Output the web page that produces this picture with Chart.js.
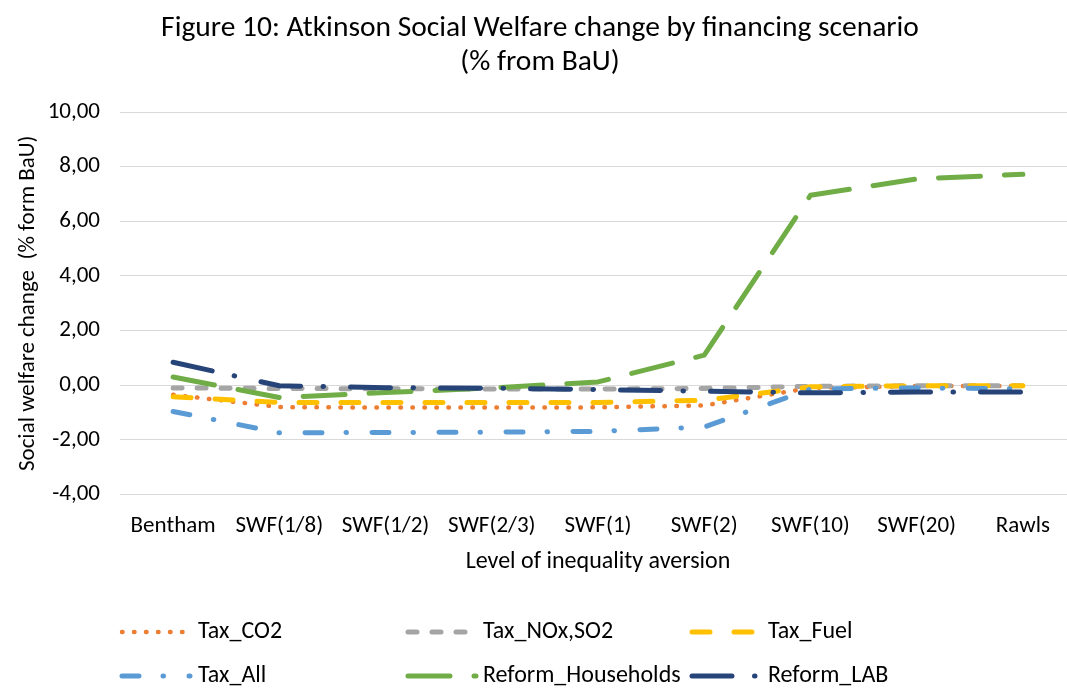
<!DOCTYPE html>
<html><head><meta charset="utf-8">
<script src="https://cdn.jsdelivr.net/npm/chart.js@4/dist/chart.umd.min.js"></script>
<style>html,body{margin:0;padding:0;background:#fff;overflow:hidden;width:1067px;height:690px}canvas{display:block}</style>
</head><body><canvas id="c" width="1080" height="690"></canvas>
<script>
const categories = ['Bentham','SWF(1/8)','SWF(1/2)','SWF(2/3)','SWF(1)','SWF(2)','SWF(10)','SWF(20)','Rawls'];
const taxCO2 = [-0.35, -0.80, -0.82, -0.82, -0.81, -0.74, -0.10, -0.03, -0.03];
const taxNOxSO2 = [-0.10, -0.12, -0.13, -0.14, -0.14, -0.12, -0.04, -0.02, -0.02];
const taxFuel = [-0.42, -0.63, -0.63, -0.63, -0.63, -0.55, -0.06, -0.02, -0.02];
const taxAll = [-0.96, -1.74, -1.73, -1.72, -1.69, -1.53, -0.14, -0.10, -0.13];
const reformHouseholds = [0.30, -0.45, -0.27, -0.10, 0.12, 1.10, 6.95, 7.55, 7.72];
const reformLAB = [0.84, -0.02, -0.09, -0.11, -0.16, -0.22, -0.28, -0.25, -0.25];
const seriesNames = ['Tax_CO2','Tax_NOx,SO2','Tax_Fuel','Tax_All','Reform_Households','Reform_LAB'];
const yMin = -4, yMax = 10, yStep = 2;
const titleLines = ['Figure 10: Atkinson Social Welfare change by financing scenario', '(% from BaU)'];
const xTitle = 'Level of inequality aversion';
const yTitle = 'Social welfare change  (% form BaU)';

const FONT = "Carlito, Lato, 'Open Sans', sans-serif";
const TXT = '#000000';

const styles = [
  {color:'#ED7D31', dash:[0.5, 11.5], width:4.5},
  {color:'#A5A5A5', dash:[9, 15], width:5},
  {color:'#FFC000', dash:[18, 24], width:5},
  {color:'#5B9BD5', dash:[17, 24, 0.5, 25.5], width:5},
  {color:'#70AD47', dash:[42, 24], width:5},
  {color:'#264478', dash:[40, 22.5, 0.5, 27], width:5}
];
const values = [taxCO2, taxNOxSO2, taxFuel, taxAll, reformHouseholds, reformLAB];

const datasets = values.map((v, i) => ({
  label: seriesNames[i],
  data: v,
  borderColor: styles[i].color,
  backgroundColor: styles[i].color,
  borderWidth: styles[i].width,
  borderDash: styles[i].dash,
  borderCapStyle: 'round',
  borderJoinStyle: 'round',
  pointRadius: 0,
  fill: false,
  tension: 0,
  order: values.length - i
}));

const titlePlugin = {
  id: 'customTitle',
  afterDraw(chart) {
    const ctx = chart.ctx;
    ctx.save();
    ctx.fillStyle = TXT;
    ctx.textAlign = 'center';
    ctx.textBaseline = 'middle';
    ctx.font = `29.5px ${FONT}`;
    ctx.fillText(titleLines[0], 540, 29);
    ctx.fillText(titleLines[1], 540, 63);
    ctx.restore();
  }
};

const legendPlugin = {
  id: 'customLegend',
  afterDraw(chart) {
    const ctx = chart.ctx;
    const cols = [[122, 190, 198], [408, 476, 483], [692, 760, 768]];
    const rows = [632, 676];
    ctx.save();
    chart.data.datasets.forEach((ds, i) => {
      const c = cols[i % 3], y = rows[Math.floor(i / 3)];
      ctx.beginPath();
      ctx.strokeStyle = ds.borderColor;
      ctx.lineWidth = ds.borderWidth;
      ctx.lineCap = 'round';
      ctx.setLineDash(ds.borderDash);
      ctx.moveTo(c[0], y);
      ctx.lineTo(c[1], y);
      ctx.stroke();
      ctx.setLineDash([]);
      ctx.fillStyle = TXT;
      ctx.font = `24px ${FONT}`;
      ctx.textAlign = 'left';
      ctx.textBaseline = 'middle';
      ctx.fillText(ds.label, c[2], y);
    });
    ctx.restore();
  }
};

new Chart(document.getElementById('c'), {
  type: 'line',
  data: { labels: categories, datasets },
  options: {
    responsive: false,
    animation: false,
    events: [],
    layout: { padding: { top: 112, left: 0, right: 4, bottom: 113.5 } },
    plugins: { legend: { display: false }, tooltip: { enabled: false }, title: { display: false } },
    scales: {
      x: {
        offset: true,
        grid: { display: false, drawTicks: false },
        border: { display: false },
        ticks: { font: { family: FONT, size: 23 }, color: TXT, padding: 18, maxRotation: 0, autoSkip: false },
        title: { display: true, text: xTitle, font: { family: FONT, size: 24 }, color: TXT, padding: { top: 0, bottom: 0 } },
        afterFit(s) { s.height = 82; }
      },
      y: {
        min: yMin, max: yMax,
        ticks: { stepSize: yStep, font: { family: FONT, size: 23 }, color: TXT, padding: 20,
          callback: v => v.toFixed(2).replace('.', ',') },
        grid: { color: '#D9D9D9', lineWidth: 1, drawTicks: false },
        border: { display: false },
        title: { display: true, text: yTitle, font: { family: FONT, size: 23 }, color: TXT, padding: { top: 14, bottom: 0 } },
        afterFit(s) { s.width = 120; }
      }
    }
  },
  plugins: [titlePlugin, legendPlugin]
});
</script></body></html>
